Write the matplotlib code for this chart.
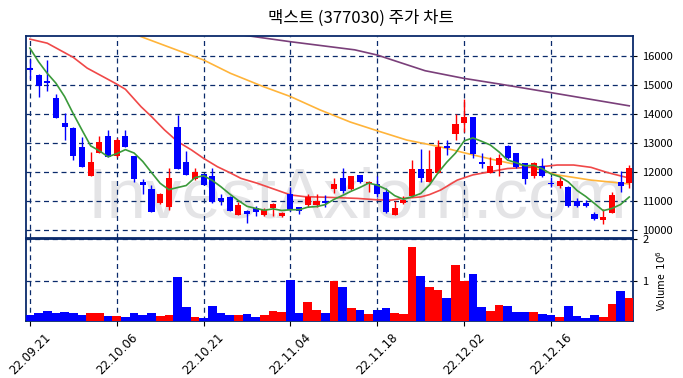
import numpy as np
import matplotlib
matplotlib.use('Agg')
import matplotlib.pyplot as plt

plt.rcParams['font.family'] = ['Noto Sans CJK KR', 'DejaVu Sans']

title = '맥스트 (377030) 주가 차트'
tick_labels = ['22.09.21', '22.10.06', '22.10.21', '22.11.04', '22.11.18', '22.12.02', '22.12.16']

opens = [15580, 15350, 15140, 14540, 13680, 13500, 12850, 11870, 12660, 13240,
         12560, 13240, 12550, 11640, 11410, 10920, 10780, 13540, 12330, 11750,
         11920, 11860, 11090, 11150, 10530, 10640, 10750, 10530, 10760, 10470,
         11240, 10790, 10870, 10860, 11010, 11420, 11790, 11400, 11890, 11590,
         11570, 11300, 10530, 10920, 11170, 12100, 11670, 11980, 12910, 13310,
         13680, 13890, 12350, 11980, 12240, 12900, 12640, 12300, 11860, 12210,
         11600, 11520, 11490, 11010, 10920, 10550, 10350, 10580, 11640, 11630]
highs = [15900, 15370, 15860, 14680, 14020, 13560, 13220, 12680, 13240, 13450,
         13160, 13450, 12560, 11750, 11550, 11260, 12130, 13970, 12720, 12130,
         11930, 12130, 11240, 11160, 10980, 10690, 10830, 10770, 10920, 10630,
         11470, 10800, 11240, 11240, 11190, 11780, 12130, 11870, 11900, 11690,
         11860, 11440, 11010, 11180, 12410, 12780, 12760, 13100, 13100, 13990,
         14510, 13900, 12670, 12530, 12620, 12930, 12650, 12310, 12330, 12470,
         11840, 11840, 11520, 11090, 11030, 10630, 10710, 11320, 12020, 12240]
lows = [15200, 14580, 14790, 13850, 13100, 12410, 12170, 11860, 12640, 12500,
        12530, 12850, 11670, 11240, 10620, 10900, 10690, 12090, 11890, 11730,
        11540, 10920, 10850, 10650, 10520, 10230, 10480, 10470, 10470, 10460,
        10660, 10550, 10800, 10800, 10800, 11260, 11260, 11380, 11620, 11320,
        11150, 10570, 10520, 10900, 11150, 11670, 11650, 11960, 12590, 13100,
        13390, 12470, 12130, 11960, 11860, 12450, 12130, 11590, 11780, 11840,
        11490, 11460, 10800, 10800, 10800, 10340, 10200, 10570, 11320, 11440]
closes = [15520, 14980, 15060, 13870, 13560, 12560, 12180, 12330, 13020, 12530,
          13100, 12870, 11750, 11560, 10630, 11240, 11780, 12110, 11910, 11990,
          11560, 10980, 11010, 10670, 10860, 10560, 10630, 10690, 10900, 10590,
          10680, 10640, 11130, 11000, 10920, 11580, 11330, 11860, 11640, 11670,
          11230, 10630, 10750, 11030, 12100, 11780, 12100, 12870, 12840, 13660,
          13890, 12620, 12280, 12210, 12470, 12470, 12160, 11750, 12300, 11860,
          11580, 11690, 10840, 10830, 10840, 10370, 10460, 11210, 11520, 12130]
volume = [198000, 246000, 294000, 246000, 270000, 246000, 198000, 246000, 246000, 175000,
          175000, 151000, 246000, 198000, 246000, 175000, 198000, 1103000, 389000, 151000,
          127000, 413000, 246000, 198000, 198000, 222000, 151000, 198000, 294000, 270000,
          1030000, 246000, 508000, 317000, 246000, 1008000, 865000, 365000, 317000, 222000,
          317000, 365000, 246000, 222000, 1817000, 1127000, 865000, 794000, 603000, 1389000,
          1008000, 1175000, 389000, 294000, 437000, 413000, 270000, 270000, 270000, 222000,
          198000, 151000, 413000, 175000, 127000, 198000, 151000, 460000, 770000, 603000]

# moving averages
ma5 = [16270, 15800, 15400, 15060, 14598, 14006, 13446, 12900, 12730, 12524,
       12632, 12770, 12654, 12362, 11982, 11610, 11392, 11464, 11534, 11806,
       11870, 11710, 11490, 11242, 11016, 10816, 10746, 10682, 10728, 10674,
       10698, 10700, 10788, 10808, 10874, 11054, 11192, 11338, 11466, 11616,
       11546, 11406, 11184, 11062, 11148, 11258, 11552, 11976, 12338, 12650,
       13072, 13176, 13058, 12932, 12694, 12410, 12318, 12212, 12230, 12108,
       11930, 11836, 11654, 11360, 11156, 10914, 10668, 10742, 10880, 11138]
ma20_x = [0, 2, 5, 6.6, 10, 11, 12.8, 14, 15.5, 17, 18.6, 20, 21.6, 23, 24.3, 26.2,
          28.2, 30, 31.6, 34, 37.7, 40, 41.6, 43, 45, 46, 47.3, 49.2, 51, 53, 55,
          57.5, 58.8, 60.7, 62.6, 64.6, 66.5, 69]
ma20 = [16580, 16440, 15950, 15580, 15030, 14850, 14250, 13910, 13450, 13050, 12760,
        12470, 12180, 11980, 11780, 11610, 11400, 11210, 11150, 11130, 11090, 11040,
        11030, 11090, 11140, 11220, 11380, 11720, 11900, 12010, 12120, 12160, 12180,
        12240, 12240, 12160, 11980, 11790]
ma60_x = [12.3, 17.4, 20, 23.1, 26.9, 30, 33.4, 36.9, 40, 43.4, 47.2, 50.3, 53, 55.3,
          57.5, 60.7, 64.6, 69]
ma60 = [16720, 16150, 15860, 15400, 14940, 14600, 14140, 13720, 13420, 13100, 12870,
        12640, 12450, 12300, 12180, 11900, 11720, 11590]
ma120_x = [24.5, 30, 37.4, 40, 45.5, 49.9, 54.1, 59.9, 69]
ma120 = [16720, 16490, 16210, 16030, 15490, 15230, 15030, 14740, 14280]

up_color = '#ff0000'
down_color = '#0000ff'
grid_color = '#0a2a6b'

o = np.array(opens)
c = np.array(closes)
x = np.arange(len(opens))
colors = [up_color if cc >= oo else down_color for oo, cc in zip(o, c)]

fig = plt.figure(figsize=(6.83, 3.78), dpi=100)
ax = fig.add_axes([0.038, 0.370, 0.889, 0.535])
axv = fig.add_axes([0.038, 0.151, 0.889, 0.216], sharex=ax)

# watermark
ax.text(0.545, 0.19, 'InvestAxiom.com', transform=ax.transAxes, ha='center', va='center',
        fontsize=51, color='#e4e4e6', family='Liberation Sans', zorder=0)

ax.plot(ma120_x, ma120, color='#7a3f7a', lw=1.2, zorder=2)
ax.plot(ma60_x, ma60, color='#ffb43a', lw=1.2, zorder=2)
ax.plot(ma20_x, ma20, color='#f04848', lw=1.2, zorder=2)
ax.plot(x, ma5, color='#3a9a3a', lw=1.2, zorder=4)

ax.vlines(x, lows, highs, colors=colors, lw=1.0, zorder=3)
body = np.maximum(np.abs(c - o), 40)
ax.bar(x, body, bottom=np.minimum(o, c), width=0.7, color=colors, zorder=3)

ax.set_ylim(9720, 16690)
ax.set_xlim(-0.45, 69.45)
ax.set_yticks(range(10000, 16001, 1000))
ax.yaxis.tick_right()
ax.tick_params(axis='y', labelsize=8, length=3)
ax.tick_params(axis='x', labelbottom=False, length=0)
ax.grid(True, color=grid_color, ls=(0, (4, 3)), lw=0.9)
fig.text(0.529, 0.953, title, ha='center', va='center', fontsize=12, fontweight='medium')

axv.bar(x, np.array(volume) / 1e6, width=1.0, color=colors, zorder=3)
axv.set_ylim(0.06, 2.0)
axv.set_yticks([1, 2])
axv.yaxis.tick_right()
axv.yaxis.set_label_position('right')
axv.set_ylabel('Volume  $10^{6}$', fontsize=7.5, labelpad=4)
axv.tick_params(axis='y', labelsize=8, length=3)
axv.set_xticks(range(0, 70, 10))
axv.set_xticklabels(tick_labels, rotation=45, fontsize=8.5, ha='center', family='DejaVu Sans')
axv.grid(True, color=grid_color, ls=(0, (4, 3)), lw=0.9)

for a in (ax, axv):
    for s in a.spines.values():
        s.set_color(grid_color)
        s.set_linewidth(1.3)
    a.set_axisbelow(True)

fig.savefig('out.png', dpi=100)
